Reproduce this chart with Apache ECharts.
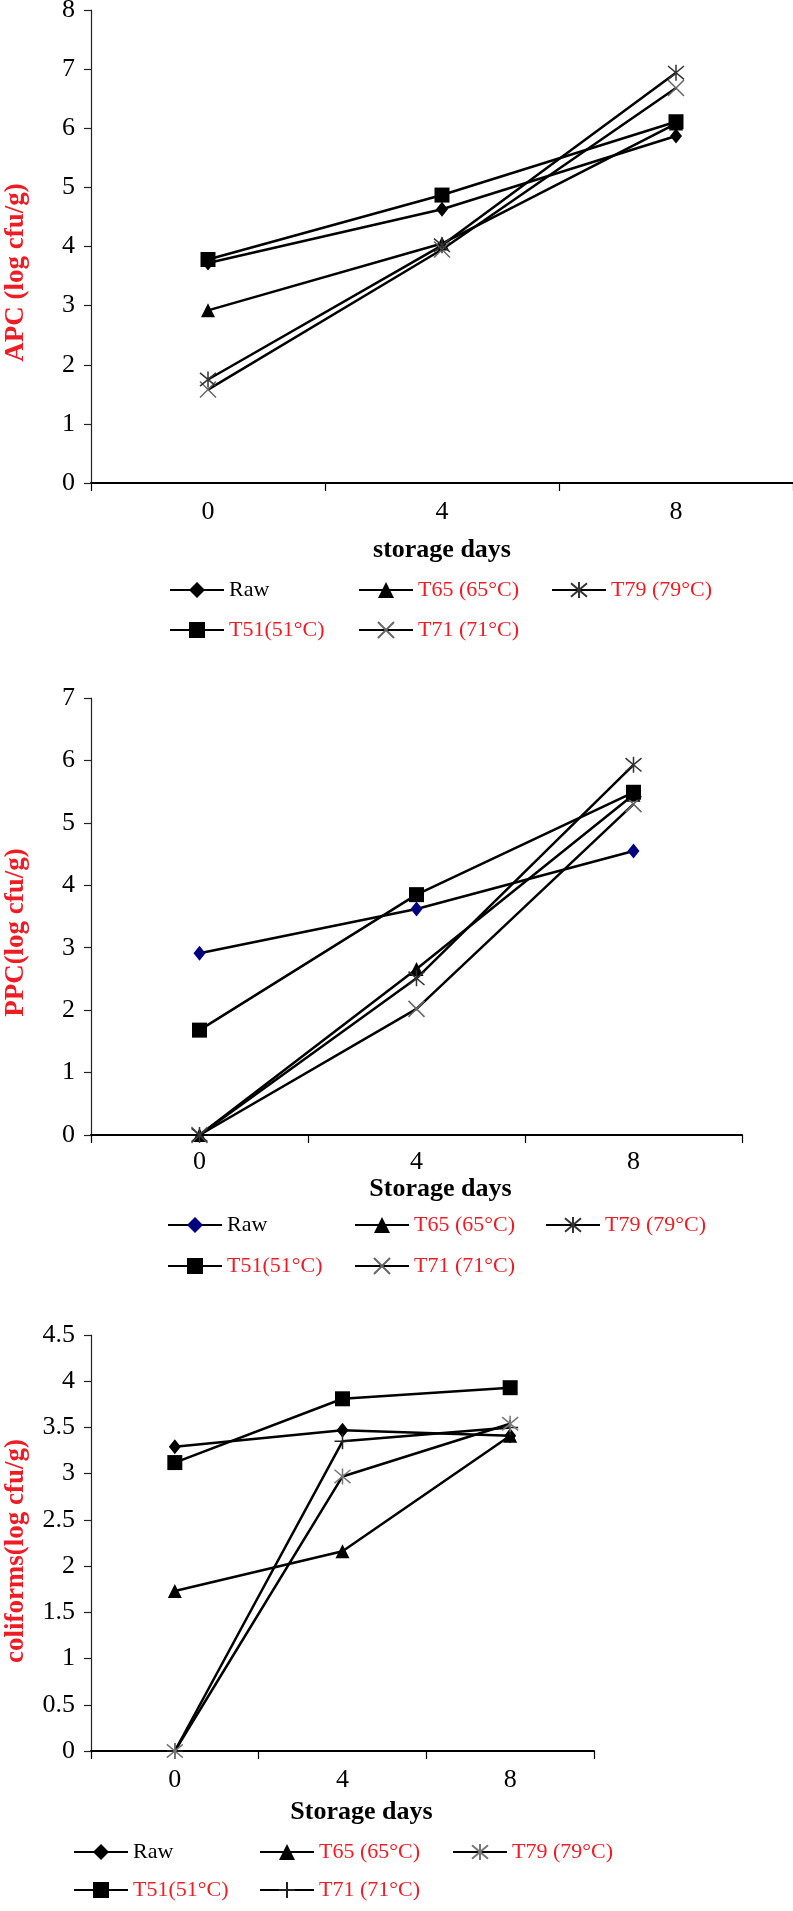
<!DOCTYPE html>
<html>
<head>
<meta charset="utf-8">
<script src="https://cdn.jsdelivr.net/npm/echarts@6/dist/echarts.min.js"></script>
<style>
html,body{margin:0;padding:0;background:#fff;}
#c{width:793px;height:1911px;}
</style>
</head>
<body>
<div id="c"></div>
<script>
// ---- data ----
const days = ['0', '4', '8'];
const seriesNames = ['Raw', 'T51(51°C)', 'T65 (65°C)', 'T71 (71°C)', 'T79 (79°C)'];

// APC (log cfu/g)
const apcRaw = [3.72, 4.63, 5.87];
const apcT51 = [3.78, 4.87, 6.11];
const apcT65 = [2.92, 4.05, 6.08];
const apcT71 = [1.58, 3.95, 6.68];
const apcT79 = [1.75, 4.02, 6.94];

// PPC (log cfu/g)
const ppcRaw = [2.91, 3.62, 4.55];
const ppcT51 = [1.68, 3.85, 5.49];
const ppcT65 = [0, 2.66, 5.45];
const ppcT71 = [0, 2.02, 5.30];
const ppcT79 = [0, 2.51, 5.93];

// coliforms (log cfu/g)
const coliRaw = [3.29, 3.47, 3.41];
const coliT51 = [3.12, 3.81, 3.93];
const coliT65 = [1.73, 2.16, 3.41];
const coliT71 = [0, 3.35, 3.50];
const coliT79 = [0, 2.97, 3.54];

// ---- styling ----
const SERIF = 'Liberation Serif';
const RED = '#ee1c25';
const SYM_X = 'path://M0,0L10,10M10,0L0,10';
const SYM_AST = 'path://M0,0L10,10M10,0L0,10M5,-1L5,11';
const SYM_PLUS = 'path://M5,0L5,10M0,5L10,5';

function filled(symbol, size, color) {
  return { symbol: symbol, symbolSize: size, itemStyle: { color: color, borderWidth: 0 } };
}
function stroked(symbol, size, color, w) {
  return { symbol: symbol, symbolSize: size, itemStyle: { color: 'rgba(0,0,0,0)', borderColor: color, borderWidth: w || 1.5 } };
}

const charts = [
  {
    data: [apcRaw, apcT51, apcT65, apcT71, apcT79],
    marks: [filled('diamond', [12, 15], '#000'), filled('rect', 15, '#000'), filled('triangle', 14, '#000'),
            stroked(SYM_X, 16, '#666'), stroked(SYM_AST, 16, '#333')],
    grid: { left: 91, top: 10, width: 702, height: 473 },
    yMax: 8, yInt: 1, yName: 'APC (log cfu/g)', yPad: [0, 52, 0, 0],
    xName: 'storage days', xGap: 54, xPad: [0, 0, 0, 0], xMargin: 16,
    legendCols: [169, 358, 551], legendRows: [579, 619]
  },
  {
    data: [ppcRaw, ppcT51, ppcT65, ppcT71, ppcT79],
    marks: [filled('diamond', [12, 15], '#000080'), filled('rect', 15, '#000'), filled('triangle', 14, '#000'),
            stroked(SYM_X, 16, '#666'), stroked(SYM_AST, 16, '#333')],
    grid: { left: 91, top: 698, width: 651, height: 437 },
    yMax: 7, yInt: 1, yName: 'PPC(log cfu/g)', yPad: [0, 32, 0, 0],
    xName: 'Storage days', xGap: 41, xPad: [0, 0, 0, 48], xMargin: 14,
    legendCols: [167, 354, 545], legendRows: [1214, 1255]
  },
  {
    data: [coliRaw, coliT51, coliT65, coliT71, coliT79],
    marks: [filled('diamond', [12, 15], '#000'), filled('rect', 15, '#000'), filled('triangle', 14, '#000'),
            stroked(SYM_PLUS, 16, '#222'), stroked(SYM_AST, 16, '#777')],
    grid: { left: 91, top: 1335, width: 503, height: 416 },
    yMax: 4.5, yInt: 0.5, yName: 'coliforms(log cfu/g)', yPad: [0, 16, 0, 0],
    xName: 'Storage days', xGap: 48, xPad: [0, 0, 0, 38], xMargin: 16,
    legendCols: [73, 259, 452], legendRows: [1841, 1879]
  }
];

// legend slot of each series: [col,row]
const legendSlot = [[0, 0], [0, 1], [1, 0], [1, 1], [2, 0]];

const option = {
  animation: false,
  backgroundColor: '#fff',
  grid: [], xAxis: [], yAxis: [], series: [], legend: []
};

charts.forEach((c, ci) => {
  option.grid.push(Object.assign({ outerBoundsMode: 'none' }, c.grid));
  option.xAxis.push({
    type: 'category', gridIndex: ci, data: days, boundaryGap: true,
    axisLine: { show: true, lineStyle: { color: '#000', width: 2 } },
    axisTick: { show: true, length: 8, lineStyle: { color: '#000', width: 1.2 } },
    axisLabel: { fontFamily: SERIF, fontSize: 26, color: '#000', margin: c.xMargin },
    splitLine: { show: false },
    name: c.xName, nameLocation: 'middle', nameGap: c.xGap,
    nameTextStyle: { fontFamily: SERIF, fontWeight: 'bold', fontSize: 26, color: '#000', padding: c.xPad }
  });
  option.yAxis.push({
    type: 'value', gridIndex: ci, min: 0, max: c.yMax, interval: c.yInt,
    axisLine: { show: true, lineStyle: { color: '#222', width: 1.2 } },
    axisTick: { show: true, length: 7, lineStyle: { color: '#222', width: 1.2 } },
    axisLabel: { fontFamily: SERIF, fontSize: 26, color: '#000', margin: 16 },
    splitLine: { show: false },
    name: c.yName, nameLocation: 'middle', nameGap: 61,
    nameTextStyle: { fontFamily: SERIF, fontWeight: 'bold', fontSize: 27, color: RED, padding: c.yPad }
  });
  c.data.forEach((vals, si) => {
    const uid = seriesNames[si] + '|' + ci;
    option.series.push(Object.assign({
      type: 'line', name: uid, xAxisIndex: ci, yAxisIndex: ci, data: vals,
      lineStyle: { color: '#000', width: 2.5 },
      z: si === 1 ? 5 : 3,
      emphasis: { disabled: true }
    }, c.marks[si]));
    const slot = legendSlot[si];
    option.legend.push({
      data: [{ name: uid, textStyle: { color: si === 0 ? '#000' : RED } }],
      left: c.legendCols[slot[0]], top: c.legendRows[slot[1]],
      orient: 'horizontal', padding: 0, itemGap: 0,
      itemWidth: 54, itemHeight: 20,
      selectedMode: false,
      formatter: n => n.split('|')[0],
      textStyle: { fontFamily: SERIF, fontSize: 22, color: '#000' }
    });
  });
});

const chart = echarts.init(document.getElementById('c'), null, { renderer: 'canvas' });
chart.setOption(option);
</script>
</body>
</html>
